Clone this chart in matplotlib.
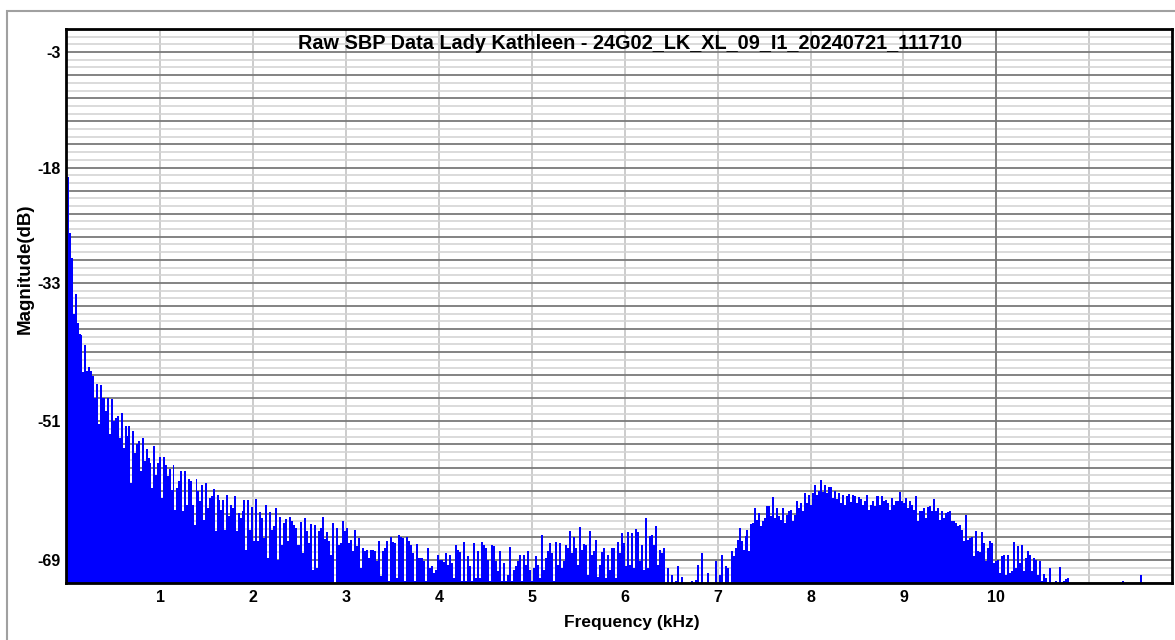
import numpy as np
import matplotlib.pyplot as plt
from matplotlib.patches import Rectangle

plt.rcParams['font.family'] = ['Liberation Sans', 'DejaVu Sans']
plt.rcParams['font.weight'] = 'bold'

title = 'Raw SBP Data Lady Kathleen - 24G02_LK_XL_09_I1_20240721_111710'

# frequency blocks (kHz); each block of FFT bins is spread evenly over its range
band_edges = [0.0, 1.98, 4.02, 5.96, 7.89, 9.94, 11.89]

# magnitude (dB) per bin, one list per block
mag_band1 = [
    -19.2, -26.5, -29.7, -37.0, -34.5, -38.2, -39.6, -39.8, -44.6, -41.1,
    -44.4, -43.9, -44.5, -45.1, -47.9, -46.2, -51.4, -46.3, -47.9, -47.9,
    -49.6, -47.9, -52.7, -48.1, -50.9, -50.5, -50.3, -53.1, -49.9, -54.4,
    -51.6, -52.9, -51.6, -59.0, -52.2, -55.1, -54.0, -53.5, -57.5, -53.1,
    -56.2, -54.6, -55.7, -56.4, -59.6, -54.2, -57.9, -56.4, -55.6, -60.9,
    -55.6, -56.6, -58.1, -57.2, -59.9, -56.6, -62.5, -59.6, -58.8, -57.5,
    -62.7, -57.5, -61.8, -58.5, -58.8, -61.8, -64.4, -58.5, -60.1, -61.4,
    -59.2, -63.8, -59.0, -62.2, -60.9, -60.7, -59.8, -65.3, -60.5, -61.2,
    -62.5, -61.2, -65.1, -60.5, -63.3, -61.8, -62.2, -60.7, -65.3, -62.9,
    -63.5, -62.7, -61.2, -67.7, -61.2, -65.1,
]
mag_band2 = [
    -62.1, -66.5, -61.1, -66.6, -62.8, -63.5, -66.1, -61.9, -68.8, -62.8,
    -65.1, -64.6, -62.3, -69.0, -63.4, -67.0, -64.2, -63.7, -66.5, -63.4,
    -64.0, -64.5, -64.9, -67.0, -64.1, -68.1, -63.6, -65.3, -66.8, -64.3,
    -70.3, -64.5, -70.1, -65.2, -64.9, -63.4, -66.3, -65.4, -66.6, -68.3,
    -64.2, -72.0, -64.8, -67.0, -66.8, -64.0, -65.3, -64.8, -66.8, -66.4,
    -67.9, -65.1, -67.2, -66.1, -70.1, -67.4, -67.9, -67.7, -68.8, -67.7,
    -67.7, -67.9, -69.2, -66.5, -71.1, -67.9, -67.5, -66.5, -71.8, -66.0,
    -66.7, -66.8, -71.4, -65.8, -66.0, -66.2, -71.8, -66.0, -66.6, -67.0,
    -68.1, -71.8, -66.9, -68.8, -68.7, -69.2, -71.8, -67.5, -70.1, -69.8,
    -70.7, -70.3, -68.4, -69.0,
]
mag_band3 = [
    -69.0, -69.3, -68.1, -69.6, -68.3, -69.4, -71.4, -67.0, -67.7, -68.0,
    -71.8, -66.7, -71.7, -68.5, -69.8, -71.8, -66.8, -71.4, -67.8, -71.4,
    -66.7, -67.0, -67.5, -69.0, -71.8, -67.0, -67.2, -69.2, -70.5, -67.9,
    -71.8, -69.4, -71.8, -70.9, -67.3, -71.8, -70.3, -69.8, -69.2, -68.4,
    -71.8, -68.3, -69.6, -67.9, -70.3, -71.8, -70.1, -68.5, -69.6, -71.4,
    -65.8, -70.3, -68.8, -67.9, -66.8, -68.1, -71.8, -66.7, -69.6, -66.8,
    -70.1, -69.2, -67.0, -67.5, -65.3, -68.1, -66.0, -67.5, -69.6, -64.7,
    -67.7, -66.9, -67.0, -70.9, -65.2, -68.3, -67.9, -66.4, -71.2, -69.6,
    -68.0, -67.5, -71.4, -68.3, -70.3, -67.5, -67.4, -71.4, -66.7, -68.1,
]
mag_band4 = [
    -65.5, -66.8, -69.8, -65.4, -69.6, -65.5, -70.1, -65.0, -65.4, -69.2,
    -67.1, -70.3, -63.6, -70.1, -65.9, -65.7, -67.0, -64.6, -69.6, -67.7,
    -68.1, -67.5, -72.0, -70.1, -72.0, -71.0, -72.0, -71.8, -69.8, -72.0,
    -71.2, -72.0, -72.0, -72.0, -72.0, -71.8, -72.0, -71.6, -69.6, -72.0,
    -68.1, -72.0, -72.0, -70.7, -72.0, -72.0, -72.0, -69.2, -72.0, -71.0,
    -68.3, -72.0, -69.8, -70.0, -72.0, -67.9, -68.5, -67.5, -66.4, -64.8,
    -66.5, -67.7, -65.9, -65.1, -67.9, -64.3, -64.2, -62.2, -63.8, -62.9,
    -64.6, -64.0, -63.5, -62.0, -62.0, -63.3, -60.8, -63.5, -62.2, -63.3,
    -63.8, -62.2, -64.2, -63.1, -62.7, -62.5, -64.0, -63.1, -61.4, -62.2,
]
mag_band5 = [
    -61.6, -62.7, -60.3, -61.6, -60.5, -61.8, -60.3, -59.3, -60.5, -60.1,
    -58.6, -60.2, -59.2, -60.3, -59.5, -59.5, -60.9, -60.0, -61.1, -60.3,
    -61.6, -60.5, -61.8, -60.7, -60.4, -61.5, -60.5, -60.7, -61.6, -60.8,
    -61.1, -61.8, -61.4, -60.5, -62.5, -61.8, -61.4, -62.0, -60.7, -61.8,
    -60.7, -61.4, -61.2, -61.6, -62.5, -60.9, -61.8, -61.3, -61.4, -60.2,
    -61.4, -61.6, -60.9, -62.2, -61.4, -61.8, -62.5, -60.7, -64.0, -62.7,
    -62.7, -62.2, -63.5, -62.1, -62.0, -62.7, -61.1, -62.7, -62.3, -63.8,
    -62.6, -63.5, -62.9, -62.8, -62.6, -64.0, -64.0, -64.2, -64.6, -64.4,
    -65.1, -66.6, -63.1, -66.4, -66.1, -66.0, -68.5, -65.2, -67.9, -68.0,
    -65.4, -66.8, -69.2, -67.4, -66.6,
]
mag_band6 = [
    -66.8, -69.4, -69.2, -69.0, -70.7, -68.5, -68.4, -71.0, -68.3, -70.7,
    -70.5, -66.7, -70.1, -67.2, -69.4, -67.1, -70.5, -68.8, -67.9, -68.3,
    -70.5, -68.8, -69.0, -70.9, -69.2, -71.8, -70.8, -71.4, -71.9, -70.1,
    -72.0, -72.0, -71.7, -72.0, -69.9, -71.9, -71.7, -71.5, -71.4, -72.0,
    -72.0, -72.0, -72.0, -72.0, -72.0, -72.0, -72.0, -72.0, -72.0, -72.0,
    -72.0, -72.0, -72.0, -72.0, -72.0, -72.0, -72.0, -72.0, -72.0, -72.0,
    -72.0, -72.0, -72.0, -72.0, -72.0, -71.7, -72.0, -72.0, -72.0, -72.0,
    -72.0, -72.0, -72.0, -72.0, -71.0, -72.0, -72.0, -72.0, -72.0, -72.0,
    -72.0, -72.0, -72.0, -72.0, -72.0, -72.0, -72.0, -72.0, -72.0, -72.0,
]

x_ticks = [1, 2, 3, 4, 5, 6, 7, 8, 9, 10, 11]
x_tick_labels = ['1', '2', '3', '4', '5', '6', '7', '8', '9', '10', '']
y_labelled = [-3, -18, -33, -51, -69]

y_min, y_max = -72, 0

fig = plt.figure(figsize=(11.75, 6.4), dpi=100)
ax = fig.add_axes([66 / 1175, 57 / 640, 1106 / 1175, 554 / 640])

bands = [mag_band1, mag_band2, mag_band3, mag_band4, mag_band5, mag_band6]
for i, mags in enumerate(bands):
    edges = np.linspace(band_edges[i], band_edges[i + 1], len(mags) + 1)
    ax.stairs(mags, edges, baseline=y_min, fill=True, color='#0000ff', zorder=2)

# leave a pixel of room so the first (DC) bin is not hidden by the spine
ax.set_xlim(band_edges[0] - 0.012, band_edges[-1])
ax.set_ylim(y_min, y_max)

ax.set_xticks(x_ticks)
ax.set_xticklabels(x_tick_labels)
yt = np.arange(y_min, y_max + 1, 3)
ax.set_yticks(yt)
ax.set_yticklabels([str(v) if v in y_labelled else '' for v in yt])
ax.set_yticks(np.arange(y_min, y_max + 1, 1), minor=True)
ax.tick_params(axis='both', which='both', length=0, labelsize=11.5)
ax.tick_params(axis='x', pad=5)
ax.tick_params(axis='y', pad=4)

ax.set_axisbelow(True)
ax.grid(which='minor', axis='y', color='#d4d4d4', lw=1.2)
ax.grid(which='major', axis='y', color='#7a7a7a', lw=1.3)
ax.grid(which='major', axis='x', color='#c8c8c8', lw=1.3)
ax.axvline(10, color='#7a7a7a', lw=1.3, zorder=0.6)

for s in ax.spines.values():
    s.set_linewidth(2)
    s.set_color('black')

ax.text(0.51, 0.973, title, transform=ax.transAxes, ha='center', va='center',
        fontsize=14.3, fontweight='bold', zorder=5)

fig.text(632 / 1175, 1 - 622 / 640, 'Frequency (kHz)', ha='center', va='center',
         fontsize=12.5, fontweight='bold')
fig.text(25 / 1175, 1 - 269 / 640, 'Magnitude(dB)', ha='center', va='center',
         rotation=90, fontsize=13.5, fontweight='bold')

fig.patches.append(Rectangle((7 / 1175, -0.1), 1.2, 1.1 - 11 / 640,
                             transform=fig.transFigure, fill=False,
                             edgecolor='#a0a0a0', lw=1.5))

fig.savefig('out.png', dpi=100)
